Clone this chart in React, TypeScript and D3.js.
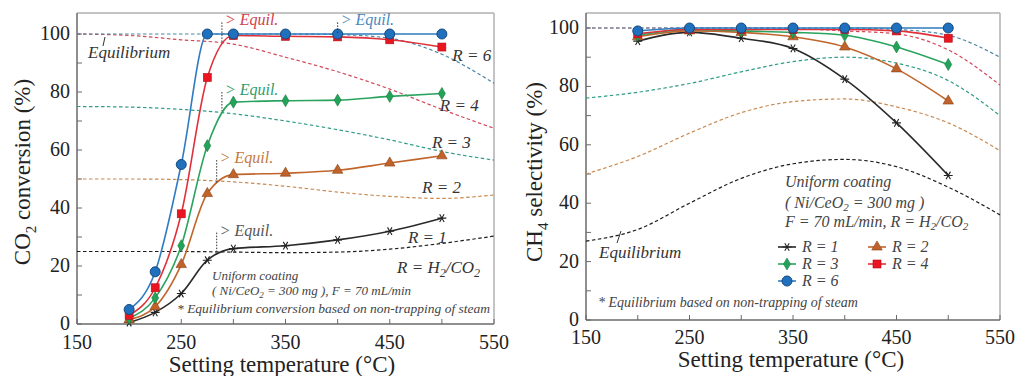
import React from 'react';
import * as d3 from 'd3';

// CO2 conversion (left panel) measured points
const convTemps = [200, 225, 250, 275, 300, 350, 400, 450, 500];
const convR1 = [0.5, 4, 10.5, 22, 26, 27, 29, 32, 36.5];
const convR2 = [1.5, 6, 20.5, 45, 51.5, 52, 53, 55.5, 58];
const convR3 = [2, 9, 27, 61.5, 76.5, 77, 77.2, 78.5, 79.5];
const convR4 = [3, 12.5, 38, 85, 99.5, 99.2, 99, 98, 95.5];
const convR6 = [5, 18, 55, 100, 100, 100, 100, 100, 100];

// equilibrium curves (dashed), both panels
const eqTemps = [150, 200, 250, 300, 350, 400, 450, 500, 550];
const eqConvR1 = [25, 25, 25, 24.8, 24.6, 24.8, 25.8, 27.8, 30.3];
const eqConvR2 = [50, 50, 49.8, 49, 47.5, 45.5, 44, 43.3, 44.5];
const eqConvR3 = [75, 74.8, 74, 72.5, 70, 67, 63.5, 59.5, 56.5];
const eqConvR4 = [100, 99.5, 98, 96.5, 92, 87, 81, 74, 67.5];
const eqConvR6 = [100, 100, 100, 100, 100, 99.8, 98.5, 93, 83];

// CH4 selectivity (right panel) measured points
const selTemps = [200, 250, 300, 350, 400, 450, 500];
const selR1 = [95.5, 98.5, 96.5, 93, 82.5, 67.5, 49.5];
const selR2 = [97, 99, 98.5, 97, 93.5, 86, 75];
const selR3 = [97.5, 99.5, 99, 98.5, 97.5, 93.5, 87.5];
const selR4 = [98, 99.5, 99.5, 99.5, 99.5, 99, 96.5];
const selR6 = [99, 100, 100, 100, 100, 100, 100];

const eqSelR1 = [27, 31, 40, 48.5, 53.5, 55, 52.5, 45.5, 36];
const eqSelR2 = [50, 56, 64, 71, 74.8, 75.7, 73, 67.5, 58];
const eqSelR3 = [76, 78, 81, 85, 88.5, 90, 88, 82, 70];
const eqSelR4 = [100, 100, 100, 100, 99.8, 99, 98, 92.5, 80.5];
const eqSelR6 = [100, 100, 100, 100, 100, 100, 99.5, 97.5, 90];

const xTicks = [150, 250, 350, 450, 550];
const xMinor = [200, 300, 400, 500];
const yTicks = [0, 20, 40, 60, 80, 100];
const yMinor = [10, 30, 50, 70, 90];

const FONT = "'Liberation Serif'";

type Kind = 'asterisk' | 'triangle' | 'diamond' | 'square' | 'circle';

interface Style {
  name: string;
  color: string;
  dash: string;
  kind: Kind;
  fill: string;
  stroke: string;
}

const styles: Style[] = [
  { name: 'R = 1', color: '#2a2a2a', dash: '#1e1e1e', kind: 'asterisk', fill: 'none', stroke: '#222' },
  { name: 'R = 2', color: '#c0662c', dash: '#c98a52', kind: 'triangle', fill: '#c0622a', stroke: '#8a4418' },
  { name: 'R = 3', color: '#2aa35e', dash: '#2f9c86', kind: 'diamond', fill: '#22a358', stroke: '#177a40' },
  { name: 'R = 4', color: '#e0303a', dash: '#d04858', kind: 'square', fill: '#ea1520', stroke: '#b01018' },
  { name: 'R = 6', color: '#2f7cc0', dash: '#4a88a8', kind: 'circle', fill: '#1f70bd', stroke: '#154a80' },
];

function Marker({ kind, x, y, s = 1 }: { kind: Kind; x: number; y: number; s?: number }) {
  const st = styles.find((d) => d.kind === kind)!;
  if (kind === 'circle') {
    return <circle cx={x} cy={y} r={5 * s} fill={st.fill} stroke={st.stroke} strokeWidth={1} />;
  }
  if (kind === 'square') {
    const h = 4 * s;
    return <rect x={x - h} y={y - h} width={2 * h} height={2 * h} fill={st.fill} stroke={st.stroke} strokeWidth={0.6} />;
  }
  if (kind === 'asterisk') {
    const p = d3.symbol(d3.symbolAsterisk, 55 * s * s)();
    return <path d={p || ''} transform={`translate(${x},${y}) rotate(90)`} fill="none" stroke={st.stroke} strokeWidth={1.1} />;
  }
  const sym = kind === 'triangle' ? d3.symbolTriangle : d3.symbolDiamond;
  const p = d3.symbol(sym, (kind === 'triangle' ? 48 : 42) * s * s)();
  return <path d={p || ''} transform={`translate(${x},${y})`} fill={st.fill} stroke={st.stroke} strokeWidth={0.6} />;
}

function T(props: any) {
  const { italic, children, ...rest } = props;
  return (
    <text fontFamily={FONT} fontStyle={italic ? 'italic' : undefined} {...rest}>
      {children}
    </text>
  );
}

function Frame({ x, y, x0, x1, y0, y1, tickY }: any) {
  return (
    <g>
      <line x1={x1} x2={x1} y1={y1} y2={y0} stroke="#b0b0b0" strokeWidth={1.5} />
      <line x1={x0} x2={x1} y1={y1} y2={y1} stroke="#b0b0b0" strokeWidth={1.5} />
      <line x1={x0} x2={x0} y1={y1} y2={y0} stroke="#6a6a6a" strokeWidth={1.5} />
      <line x1={x0} x2={x1} y1={y0} y2={y0} stroke="#6a6a6a" strokeWidth={1.5} />
      {[...xTicks, ...xMinor].map((t) => (
        <line key={'xt' + t} x1={x(t)} x2={x(t)} y1={y0} y2={y0 - 5} stroke="#6a6a6a" strokeWidth={1} />
      ))}
      {[...yTicks, ...yMinor].map((t) => (
        <line key={'yt' + t} x1={x0} x2={x0 + 5} y1={y(t)} y2={y(t)} stroke="#6a6a6a" strokeWidth={1} />
      ))}
      {xTicks.map((t) => (
        <T key={'xl' + t} x={x(t)} y={tickY} textAnchor="middle" fontSize={20} fill="#222">
          {t}
        </T>
      ))}
      {yTicks.map((t) => (
        <T key={'yl' + t} x={x0 - 7} y={y(t) + 6} textAnchor="end" fontSize={20} fill="#222">
          {t}
        </T>
      ))}
    </g>
  );
}

function Panel({ x, y, temps, series, eqSeries }: any) {
  const eqLine = d3.line<number>().x((_, i) => x(eqTemps[i])).y((d) => y(d)).curve(d3.curveMonotoneX);
  const dataLine = d3.line<number>().x((_, i) => x(temps[i])).y((d) => y(d)).curve(d3.curveMonotoneX);
  return (
    <g>
      {eqSeries.map((vals: number[], i: number) => (
        <path key={'eq' + i} d={eqLine(vals) || ''} fill="none" stroke={styles[i].dash} strokeWidth={1.2} strokeDasharray="3.5,2.5" />
      ))}
      {series.map((vals: number[], i: number) => (
        <path key={'ln' + i} d={dataLine(vals) || ''} fill="none" stroke={styles[i].color} strokeWidth={1.6} />
      ))}
      {series.map((vals: number[], i: number) =>
        vals.map((v, j) => <Marker key={`m${i}-${j}`} kind={styles[i].kind} x={x(temps[j])} y={y(v)} s={1} />)
      )}
    </g>
  );
}

// left panel annotations: dotted ticks with "> Equil."
const equilNotes = [
  { temp: 400, top: 104, bottom: 100, color: '#4a88c0' },
  { temp: 289, top: 104, bottom: 97, color: '#d0404a' },
  { temp: 289, top: 80, bottom: 73.5, color: '#2f9c6a' },
  { temp: 284, top: 56.5, bottom: 48.8, color: '#c07a40' },
  { temp: 284, top: 31.5, bottom: 24.8, color: '#555' },
];

export default function App() {
  const xL = d3.scaleLinear().domain([150, 550]).range([77, 494]);
  const yL = d3.scaleLinear().domain([0, 107]).range([324, 13.7]);
  const xR = d3.scaleLinear().domain([150, 550]).range([586, 1000]);
  const yR = d3.scaleLinear().domain([0, 105]).range([320, 13.4]);

  return (
    <svg width={1016} height={376} style={{ position: 'absolute', left: 0, top: 0, background: '#fff' }}>
      <rect width={1016} height={376} fill="#fff" />

      {/* ---------- left: CO2 conversion ---------- */}
      <Frame x={xL} y={yL} x0={77} x1={494} y0={324} y1={13} tickY={349} />
      <Panel
        x={xL}
        y={yL}
        temps={convTemps}
        series={[convR1, convR2, convR3, convR4, convR6]}
        eqSeries={[eqConvR1, eqConvR2, eqConvR3, eqConvR4, eqConvR6]}
      />
      {equilNotes.map((n, i) => (
        <g key={'en' + i}>
          <line x1={xL(n.temp)} x2={xL(n.temp)} y1={yL(n.top)} y2={yL(n.bottom)} stroke="#333" strokeWidth={1} strokeDasharray="1.5,1.5" />
          <T italic x={xL(n.temp) + 3} y={yL(n.top) + 3} fontSize={16} fill={n.color}>
            {'> Equil.'}
          </T>
        </g>
      ))}
      <line x1={105} x2={103} y1={37} y2={46} stroke="#333" strokeWidth={1} />
      <T italic x={88} y={58} fontSize={17} fill="#333">Equilibrium</T>
      <T italic x={xL(510)} y={yL(90.7)} fontSize={17} fill="#333">R = 6</T>
      <T italic x={xL(498)} y={yL(73.4)} fontSize={17} fill="#333">R = 4</T>
      <T italic x={xL(490.5)} y={yL(60.7)} fontSize={17} fill="#333">R = 3</T>
      <T italic x={xL(481)} y={yL(45.2)} fontSize={17} fill="#333">R = 2</T>
      <T italic x={xL(467.5)} y={yL(27.9)} fontSize={17} fill="#333">R = 1</T>
      <T italic x={xL(457)} y={yL(17.6)} fontSize={17} fill="#333">
        R = H<tspan dy={4} fontSize={12}>2</tspan><tspan dy={-4}>/CO</tspan><tspan dy={4} fontSize={12}>2</tspan>
      </T>
      <T italic x={212} y={280} fontSize={13} fill="#444">Uniform coating</T>
      <T italic x={212} y={295} fontSize={13} fill="#444">
        ( Ni/CeO<tspan dy={3} fontSize={9}>2</tspan><tspan dy={-3}> = 300 mg ), F = 70 mL/min</tspan>
      </T>
      <T italic x={177} y={313} fontSize={13.5} fill="#444">* Equilibrium conversion based on non-trapping of steam</T>
      <T transform="translate(30,172) rotate(-90)" textAnchor="middle" fontSize={23} fill="#222">
        CO<tspan dy={6} fontSize={15}>2</tspan><tspan dy={-6}> conversion (%)</tspan>
      </T>
      <T x={282} y={372} textAnchor="middle" fontSize={23} fill="#222">
        Setting temperature (°C)
      </T>

      {/* ---------- right: CH4 selectivity ---------- */}
      <Frame x={xR} y={yR} x0={586} x1={1000} y0={320} y1={13} tickY={344} />
      <Panel
        x={xR}
        y={yR}
        temps={selTemps}
        series={[selR1, selR2, selR3, selR4, selR6]}
        eqSeries={[eqSelR1, eqSelR2, eqSelR3, eqSelR4, eqSelR6]}
      />
      <line x1={621} x2={617} y1={231} y2={243} stroke="#333" strokeWidth={1} />
      <T italic x={599} y={258} fontSize={17} fill="#333">Equilibrium</T>
      <T italic x={785} y={187} fontSize={16} fill="#444">Uniform coating</T>
      <T italic x={785} y={208} fontSize={16} fill="#444">
        ( Ni/CeO<tspan dy={3} fontSize={11}>2</tspan><tspan dy={-3}> = 300 mg )</tspan>
      </T>
      <T italic x={785} y={227} fontSize={16} fill="#444">
        F = 70 mL/min, R = H<tspan dy={3} fontSize={11}>2</tspan><tspan dy={-3}>/CO</tspan><tspan dy={3} fontSize={11}>2</tspan>
      </T>
      {[
        { i: 0, lx: 787, ly: 247 },
        { i: 1, lx: 877, ly: 247 },
        { i: 2, lx: 787, ly: 264 },
        { i: 3, lx: 877, ly: 264 },
        { i: 4, lx: 787, ly: 281 },
      ].map(({ i, lx, ly }) => (
        <g key={'lg' + i}>
          <line x1={lx - 9} x2={lx + 9} y1={ly} y2={ly} stroke={styles[i].color} strokeWidth={1.6} />
          <Marker kind={styles[i].kind} x={lx} y={ly} s={1} />
          <T italic x={lx + 15} y={ly + 5} fontSize={16} fill="#444">{styles[i].name}</T>
        </g>
      ))}
      <T italic x={598} y={307} fontSize={14} fill="#444">
        * Equilibrium based on non-trapping of steam
      </T>
      <T transform="translate(542,172) rotate(-90)" textAnchor="middle" fontSize={23} fill="#222">
        CH<tspan dy={6} fontSize={15}>4</tspan><tspan dy={-6}> selectivity (%)</tspan>
      </T>
      <T x={791} y={367} textAnchor="middle" fontSize={23} fill="#222">
        Setting temperature (°C)
      </T>
    </svg>
  );
}
